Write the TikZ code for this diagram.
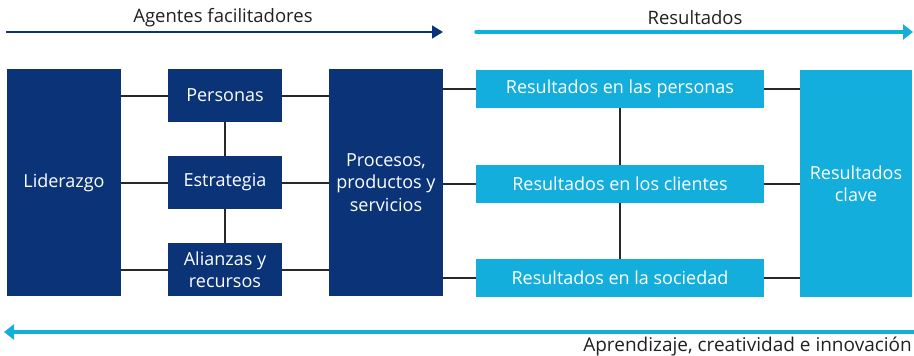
\documentclass[tikz,border=0pt]{standalone}
\usepackage{fontspec}
\setmainfont{Open Sans}
\usetikzlibrary{arrows.meta}
\definecolor{dkblue}{RGB}{11,52,120}
\definecolor{ltblue}{RGB}{20,174,220}
\definecolor{lnclr}{RGB}{40,40,40}
\definecolor{txtclr}{RGB}{35,31,32}
\tikzset{
  dbox/.style={rectangle, fill=dkblue, text=white, align=center, inner sep=0pt, font=\fontsize{18}{22.5}\selectfont},
  lbox/.style={rectangle, fill=ltblue, text=white, align=center, inner sep=0pt, font=\fontsize{18}{22.5}\selectfont},
  conn/.style={draw=lnclr, line width=2pt},
  lbl/.style={text=txtclr, inner sep=0pt, font=\fontsize{18.5}{22}\selectfont}
}
\begin{document}
\begin{tikzpicture}[x=1pt,y=-1pt]
\useasboundingbox (0,0) rectangle (914,356);
% nodes
\node[dbox, minimum width=114pt, minimum height=227pt] (lid) at (64,182.5) {Liderazgo};
\node[dbox, minimum width=114pt, minimum height=53pt] (per) at (225,95.5) {Personas};
\node[dbox, minimum width=114pt, minimum height=53pt] (est) at (225,182.5) {Estrategia};
\node[dbox, minimum width=114pt, minimum height=53pt] (ali) at (225,269.5) {Alianzas y\\recursos};
\node[dbox, minimum width=114pt, minimum height=227pt] (proc) at (386,182.5) {Procesos,\\productos y\\servicios};
\node[lbox, minimum width=288pt, minimum height=38pt] (rp) at (620,89) {Resultados en las personas};
\node[lbox, minimum width=288pt, minimum height=38pt] (rc) at (620,184) {Resultados en los clientes};
\node[lbox, minimum width=288pt, minimum height=38pt] (rs) at (620,278) {Resultados en la sociedad};
\node[lbox, minimum width=112pt, minimum height=227pt] (clave) at (856,183.5) {Resultados\\clave};
% connectors
\draw[conn] (lid.east |- per.west) -- (per.west);
\draw[conn] (lid.east |- est.west) -- (est.west);
\draw[conn] (lid.east |- ali.west) -- (ali.west);
\draw[conn] (per.east) -- (proc.west |- per.east);
\draw[conn] (est.east) -- (proc.west |- est.east);
\draw[conn] (ali.east) -- (proc.west |- ali.east);
\draw[conn] (per.south) -- (est.north);
\draw[conn] (est.south) -- (ali.north);
\draw[conn] (proc.east |- rp.west) -- (rp.west);
\draw[conn] (proc.east |- rc.west) -- (rc.west);
\draw[conn] (proc.east |- rs.west) -- (rs.west);
\draw[conn] (rp.south) -- (rc.north);
\draw[conn] (rc.south) -- (rs.north);
\draw[conn] (rp.east) -- (clave.west |- rp.east);
\draw[conn] (rc.east) -- (clave.west |- rc.east);
\draw[conn] (rs.east) -- (clave.west |- rs.east);
% arrows
\coordinate (a1s) at (6,32);
\coordinate (a1e) at (443,32);
\coordinate (a2s) at (476,32);
\coordinate (a2e) at (913,32);
\coordinate (a3s) at (914,332);
\coordinate (a3e) at (4,332);
\draw[draw=dkblue, line width=1.8pt, -{Triangle[length=11pt,width=13pt]}] (a1s) -- (a1e);
\draw[draw=ltblue, line width=3.5pt, line cap=round, -{Triangle[length=10pt,width=15pt]}] (a2s) -- (a2e);
\draw[draw=ltblue, line width=3.5pt, -{Triangle[length=10pt,width=15pt]}] (a3s) -- (a3e);
\node[lbl] (t1) at (223,18) {Agentes facilitadores};
\node[lbl] (t2) at (695,18) {Resultados};
\node[lbl, anchor=east, font=\fontsize{19}{22}\selectfont] (t3) at (912,347) {Aprendizaje, creatividad e innovación};
\end{tikzpicture}
\end{document}
